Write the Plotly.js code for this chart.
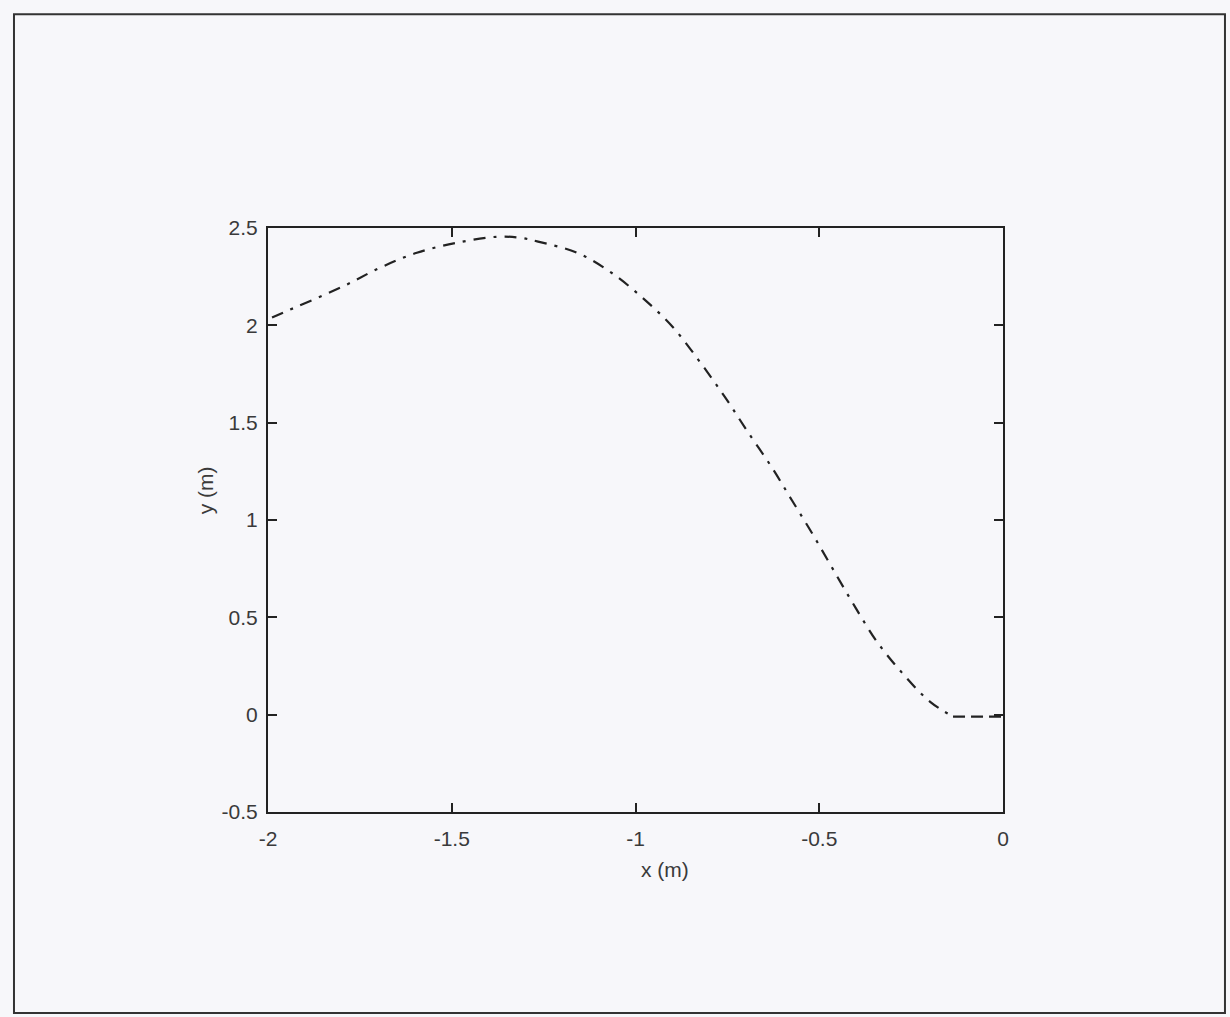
<!DOCTYPE html>
<html>
<head>
<meta charset="utf-8">
<script src="https://cdn.plot.ly/plotly-3.0.1.min.js"></script>
<style>
html,body{margin:0;padding:0;background:#f7f7fa;}
#chart{width:1230px;height:1017px;}
</style>
</head>
<body>
<div id="chart"></div>
<script>
// Curve (dash-dot part)
const curveX = [-1.989, -1.959, -1.796, -1.695, -1.595, -1.486, -1.377, -1.314, -1.265, -1.159, -1.069, -0.98, -0.898, -0.824, -0.756, -0.697, -0.629, -0.574, -0.517, -0.462, -0.403, -0.343, -0.275, -0.199, -0.136];
const curveY = [2.04, 2.065, 2.20, 2.296, 2.373, 2.424, 2.455, 2.45, 2.43, 2.373, 2.275, 2.14, 1.99, 1.81, 1.63, 1.46, 1.27, 1.10, 0.924, 0.745, 0.555, 0.375, 0.216, 0.067, -0.01];
// Flat (dashed) tail
const tailX = [-0.136, 0];
const tailY = [-0.01, -0.01];

const xTicks = [-2, -1.5, -1, -0.5, 0];
const xTickText = ['-2', '-1.5', '-1', '-0.5', '0'];
const yTicks = [-0.5, 0, 0.5, 1, 1.5, 2, 2.5];
const yTickText = ['-0.5', '0', '0.5', '1', '1.5', '2', '2.5'];

const font = {family: 'Liberation Sans Narrow, Liberation Sans, Arial, sans-serif', size: 21, color: '#3a3a3a'};

const traces = [
  {x: curveX, y: curveY, mode: 'lines', line: {color: '#222', width: 2.2, dash: '12px,8px,3px,8px', shape: 'spline'}, hoverinfo: 'skip'},
  {x: tailX, y: tailY, mode: 'lines', line: {color: '#222', width: 2.2, dash: '12px,6px'}, hoverinfo: 'skip'}
];

const axisCommon = {
  showgrid: false, zeroline: false, showline: true, linecolor: '#222', linewidth: 2,
  mirror: 'ticks', ticks: 'inside', ticklen: 9, tickwidth: 2, tickcolor: '#222',
  tickfont: font
};

const layout = {
  width: 1230, height: 1017,
  margin: {l: 268, r: 227, t: 228, b: 205},
  paper_bgcolor: '#f7f7fa', plot_bgcolor: '#f7f7fa',
  showlegend: false,
  xaxis: Object.assign({}, axisCommon, {range: [-2, 0], tickvals: xTicks, ticktext: xTickText, ticklabelstandoff: 7}),
  yaxis: Object.assign({}, axisCommon, {range: [-0.5, 2.5], tickvals: yTicks, ticktext: yTickText, ticklabelstandoff: 4}),
  annotations: [
    {text: 'x (m)', xref: 'paper', yref: 'paper', x: 0.54, y: -0.099, showarrow: false, font: font, xanchor: 'center', yanchor: 'middle'},
    {text: 'y (m)', xref: 'paper', yref: 'paper', x: -0.0857, y: 0.551, showarrow: false, font: font, textangle: -90, xanchor: 'center', yanchor: 'middle'}
  ],
  shapes: [
    {type: 'rect', xref: 'paper', yref: 'paper', x0: -0.3456, x1: 1.302, y0: -0.344, y1: 1.366, line: {color: '#333', width: 2}, layer: 'below'}
  ]
};

Plotly.newPlot('chart', traces, layout, {displayModeBar: false, staticPlot: true});
</script>
</body>
</html>
